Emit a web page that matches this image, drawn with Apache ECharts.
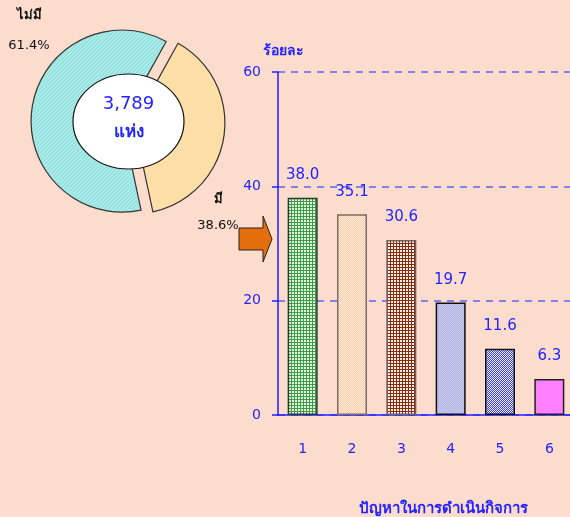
<!DOCTYPE html>
<html>
<head>
<meta charset="utf-8">
<script src="https://cdn.jsdelivr.net/npm/echarts@6/dist/echarts.min.js"></script>
<style>
  html, body { margin: 0; padding: 0; background: #fcdccd; }
  #chart { width: 570px; height: 517px; }
</style>
</head>
<body>
<div id="chart"></div>
<script>
// ข้อมูล
const categories = ['1', '2', '3', '4', '5', '6']
const problemPct = [38.0, 35.1, 30.6, 19.7, 11.6, 6.3]
const pieNames = ['มี', 'ไม่มี']
const piePct = [38.6, 61.4]
const totalPlaces = 3789
const unitText = 'แห่ง'

const FONT = 'Tahoma, "DejaVu Sans", "Noto Sans", sans-serif'
const BLUE = '#2323ff'

// small repeating fill patterns, like the old office chart fills
const makePattern = (size, draw) => {
  const c = document.createElement('canvas')
  c.width = size; c.height = size
  draw(c.getContext('2d'))
  return { image: c, repeat: 'repeat' }
}
const grid3 = (bg, line) => makePattern(3, ctx => {
  ctx.fillStyle = line; ctx.fillRect(0, 0, 3, 3)
  ctx.fillStyle = bg; ctx.fillRect(1, 1, 2, 2)
})
const checker = (a, b) => makePattern(2, ctx => {
  ctx.fillStyle = a; ctx.fillRect(0, 0, 2, 2)
  ctx.fillStyle = b; ctx.fillRect(0, 0, 1, 1); ctx.fillRect(1, 1, 1, 1)
})

const barFills = [
  grid3('#e6f5e2', '#3d9c45'),
  checker('#ffd0a8', '#fde8dc'),
  grid3('#fbf0ea', '#8a2a08'),
  checker('#b4b6e4', '#c8c8ee'),
  checker('#3c3cff', '#f0f0ff'),
  '#ff80ff'
]
const barBorders = ['#2a3a2a', '#7b6a60', '#6e625c', '#111', '#111', '#222']

const pieFills = [
  checker('#ffd898', '#ffe6b8'),
  makePattern(4, ctx => {
    ctx.fillStyle = '#a9ecea'; ctx.fillRect(0, 0, 4, 4)
    ctx.fillStyle = '#86d8d6'
    for (let i = 0; i < 4; i++) ctx.fillRect(i, 3 - i, 1, 1)
  })
]
// where the name / percent of each slice sit
const pieLabelPos = [
  { x: 218, nameY: 200, pctY: 226 },
  { x: 29, nameY: 16, pctY: 46 }
]

const chart = echarts.init(document.getElementById('chart'))

const pieLabels = []
pieNames.forEach((n, i) => {
  pieLabels.push({
    type: 'text', x: pieLabelPos[i].x, y: pieLabelPos[i].nameY, z: 101,
    style: { text: n, fill: '#111', fontSize: 13, fontWeight: 'bold', fontFamily: FONT, align: 'center', verticalAlign: 'middle' }
  })
  pieLabels.push({
    type: 'text', x: pieLabelPos[i].x, y: pieLabelPos[i].pctY, z: 101,
    style: { text: piePct[i].toFixed(1) + '%', fill: '#111', fontSize: 13, fontFamily: FONT, align: 'center', verticalAlign: 'middle' }
  })
})

const option = {
  backgroundColor: '#fcdccd',
  animation: false,
  textStyle: { fontFamily: FONT },
  grid: { left: 278, top: 72, right: -4, bottom: 102, outerBoundsMode: 'none', containLabel: false },
  xAxis: {
    type: 'category',
    data: categories,
    name: 'ปัญหาในการดำเนินกิจการ',
    nameLocation: 'middle',
    nameGap: 87,
    nameTextStyle: { color: BLUE, fontSize: 15, fontWeight: 'bold', padding: [0, 0, 0, 34] },
    axisLine: { lineStyle: { color: '#2020ff', width: 1.5 } },
    axisTick: { length: 5, lineStyle: { color: '#2020ff', width: 1.5 } },
    axisLabel: { color: BLUE, fontSize: 14, margin: 27 }
  },
  yAxis: {
    type: 'value',
    min: 0,
    max: 60,
    interval: 20,
    name: 'ร้อยละ',
    nameGap: 14,
    nameTextStyle: { color: BLUE, fontSize: 14, fontWeight: 'bold', align: 'left', padding: [0, 0, 0, -15] },
    axisLine: { show: true, lineStyle: { color: '#2020ff', width: 1.5 } },
    axisTick: { show: true, length: 6, lineStyle: { color: '#2020ff', width: 1.5 } },
    axisLabel: { color: BLUE, fontSize: 14, margin: 17 },
    splitLine: { lineStyle: { color: '#6262f2', type: [7, 6], width: 1.5 } }
  },
  series: [
    {
      type: 'bar',
      barWidth: 30,
      data: problemPct.map((v, i) => ({
        value: v,
        itemStyle: { color: barFills[i], borderColor: barBorders[i], borderWidth: 1.5 }
      })),
      label: {
        show: true,
        position: 'top',
        distance: 15,
        color: BLUE,
        fontSize: 15,
        formatter: p => p.value.toFixed(1)
      }
    },
    {
      type: 'pie',
      center: [128, 122],
      radius: [40, 91],
      startAngle: 61,
      selectedMode: 'multiple',
      selectedOffset: 6,
      clockwise: true,
      itemStyle: { borderColor: '#333', borderWidth: 1.2 },
      emphasis: { disabled: true },
      label: { show: false },
      labelLine: { show: false },
      data: pieNames.map((n, i) => ({
        name: n,
        value: piePct[i],
        selected: true,
        itemStyle: { color: pieFills[i] }
      }))
    }
  ],
  graphic: [
    {
      type: 'ellipse',
      shape: { cx: 128.5, cy: 121.5, rx: 55.5, ry: 47.5 },
      style: { fill: '#fff', stroke: '#111', lineWidth: 1.2 },
      z: 100
    },
    {
      type: 'text',
      x: 128.5, y: 104, z: 101,
      style: { text: totalPlaces.toLocaleString('en-US'), fill: BLUE, fontSize: 18, fontFamily: FONT, align: 'center', verticalAlign: 'middle' }
    },
    {
      type: 'text',
      x: 128.5, y: 133, z: 101,
      style: { text: unitText, fill: BLUE, fontSize: 17, fontWeight: 'bold', fontFamily: FONT, align: 'center', verticalAlign: 'middle' }
    },
    {
      // ลูกศรชี้ไปที่กราฟแท่ง
      type: 'polygon',
      shape: { points: [[239, 228], [263, 228], [263, 216], [272, 239], [263, 262], [263, 250], [239, 250]] },
      style: { fill: '#e56e0c', stroke: '#222', lineWidth: 1 },
      z: 100
    }
  ].concat(pieLabels)
}

chart.setOption(option)
window.addEventListener('resize', () => chart.resize())
</script>
</body>
</html>
